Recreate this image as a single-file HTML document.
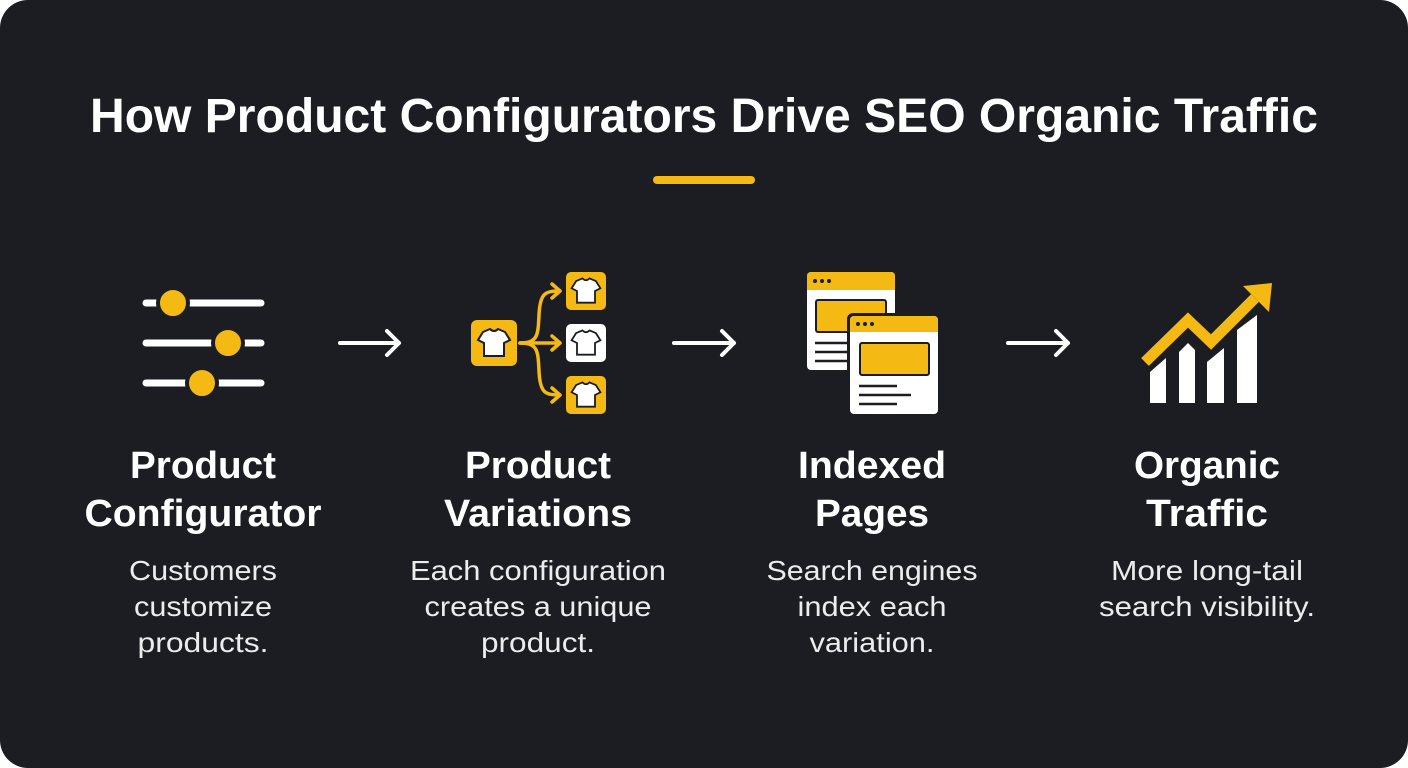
<!DOCTYPE html>
<html><head><meta charset="utf-8"><style>
html,body{margin:0;padding:0;background:#fff;width:1408px;height:768px;overflow:hidden}
svg{display:block}
text{font-family:"Liberation Sans",sans-serif;fill:#fff;text-anchor:middle}
.h{font-weight:bold;font-size:38px}
.d{font-size:28px;fill:#ececec}
</style></head><body>
<svg width="1408" height="768" viewBox="0 0 1408 768">
<rect x="0" y="0" width="1408" height="768" rx="28" fill="#1b1d22"/>
<text x="704" y="132" font-weight="bold" font-size="48" textLength="1228" lengthAdjust="spacingAndGlyphs">How Product Configurators Drive SEO Organic Traffic</text>
<rect x="653" y="176" width="102" height="8" rx="4" fill="#f5b914"/>

<!-- sliders -->
<g stroke="#fff" stroke-width="7" stroke-linecap="round">
<line x1="146" y1="303" x2="261" y2="303"/><line x1="146" y1="343" x2="261" y2="343"/><line x1="146" y1="383" x2="261" y2="383"/>
</g>
<g fill="#f5b914" stroke="#1b1d22" stroke-width="4">
<circle cx="173" cy="303" r="15"/><circle cx="228" cy="343" r="15"/><circle cx="202" cy="383" r="15"/>
</g>

<!-- arrows -->
<g stroke="#fff" stroke-width="4" fill="none" stroke-linecap="round" stroke-linejoin="round">
<path d="M340 343H399M387 331L399 343L387 355"/>
<path d="M674 343H734M722 331L734 343L722 355"/>
<path d="M1008 343H1068M1056 331L1068 343L1056 355"/>
</g>

<!-- variations -->
<g stroke="#f5b914" stroke-width="3.5" fill="none" stroke-linecap="round" stroke-linejoin="round">
<path d="M520 343H560M552 336L560 343L552 350"/>
<path d="M520 343C538 343 538 335 539 315C540 293 545 291 560 291M552 284L560 291L552 298"/>
<path d="M520 343C538 343 538 351 539 371C540 393 545 395 560 395M552 388L560 395L552 402"/>
</g>
<defs><path id="tee" d="M-11 -11L-4 -14Q0 -10 4 -14L11 -11L16 -3L10 0V13H-10V0L-16 -3Z"/></defs>
<rect x="471" y="320" width="46" height="46" rx="6" fill="#f5b914"/>
<use href="#tee" x="494" y="343" fill="#fff" stroke="#1b1d22" stroke-width="2"/>
<rect x="566" y="272" width="40" height="38" rx="5" fill="#f5b914"/>
<use href="#tee" fill="#fff" stroke="#1b1d22" stroke-width="2" transform="translate(586 291) scale(.9)"/>
<rect x="566" y="324" width="40" height="38" rx="5" fill="#fff"/>
<use href="#tee" fill="#fff" stroke="#1b1d22" stroke-width="2" transform="translate(586 343) scale(.9)"/>
<rect x="566" y="376" width="40" height="38" rx="5" fill="#f5b914"/>
<use href="#tee" fill="#fff" stroke="#1b1d22" stroke-width="2" transform="translate(586 395) scale(.9)"/>

<!-- pages -->
<g>
<rect x="807" y="272" width="88" height="98" rx="4" fill="#fff"/>
<path d="M807 290V276a4 4 0 0 1 4-4h80a4 4 0 0 1 4 4v14Z" fill="#f5b914"/>
<circle cx="815" cy="281" r="2" fill="#1b1d22"/><circle cx="822" cy="281" r="2" fill="#1b1d22"/><circle cx="829" cy="281" r="2" fill="#1b1d22"/>
<rect x="816" y="300" width="70" height="32" rx="2" fill="#f5b914" stroke="#1b1d22" stroke-width="2"/>
<g stroke="#1b1d22" stroke-width="2.5"><line x1="815" y1="343" x2="850" y2="343"/><line x1="815" y1="352" x2="850" y2="352"/><line x1="815" y1="361" x2="850" y2="361"/></g>
<rect x="847" y="313" width="93" height="103" rx="6" fill="#1b1d22"/>
<rect x="850" y="316" width="88" height="98" rx="4" fill="#fff"/>
<path d="M850 332V320a4 4 0 0 1 4-4h80a4 4 0 0 1 4 4v12Z" fill="#f5b914"/>
<circle cx="858" cy="324" r="2" fill="#1b1d22"/><circle cx="865" cy="324" r="2" fill="#1b1d22"/><circle cx="872" cy="324" r="2" fill="#1b1d22"/>
<rect x="860" y="343" width="69" height="32" rx="2" fill="#f5b914" stroke="#1b1d22" stroke-width="2"/>
<g stroke="#1b1d22" stroke-width="2.5"><line x1="859" y1="386" x2="897" y2="386"/><line x1="859" y1="395" x2="911" y2="395"/><line x1="859" y1="404" x2="897" y2="404"/></g>
</g>

<!-- chart -->
<g fill="#fff">
<path d="M1150 403V372L1166 358V403Z"/>
<path d="M1179 403V352L1188 343L1195 350V403Z"/>
<path d="M1207 403V362L1224 348V403Z"/>
<path d="M1237 403V330L1257 315V403Z"/>
</g>
<path d="M1145 362L1188 320L1211 342L1255 298" fill="none" stroke="#1b1d22" stroke-width="17" stroke-linejoin="miter"/>
<path d="M1145 362L1188 320L1211 342L1255 298" fill="none" stroke="#f5b914" stroke-width="11" stroke-linejoin="miter"/>
<path d="M1243 286L1272 283L1269 312Z" fill="#f5b914"/>

<!-- labels -->
<text class="h" x="203" y="478" textLength="146" lengthAdjust="spacingAndGlyphs">Product</text>
<text class="h" x="203" y="526" textLength="237" lengthAdjust="spacingAndGlyphs">Configurator</text>
<text class="d" x="203" y="580" textLength="148" lengthAdjust="spacingAndGlyphs">Customers</text>
<text class="d" x="203" y="616" textLength="138" lengthAdjust="spacingAndGlyphs">customize</text>
<text class="d" x="203" y="652" textLength="131" lengthAdjust="spacingAndGlyphs">products.</text>

<text class="h" x="538" y="478" textLength="146" lengthAdjust="spacingAndGlyphs">Product</text>
<text class="h" x="538" y="526" textLength="188" lengthAdjust="spacingAndGlyphs">Variations</text>
<text class="d" x="538" y="580" textLength="256" lengthAdjust="spacingAndGlyphs">Each configuration</text>
<text class="d" x="538" y="616" textLength="227" lengthAdjust="spacingAndGlyphs">creates a unique</text>
<text class="d" x="538" y="652" textLength="114" lengthAdjust="spacingAndGlyphs">product.</text>

<text class="h" x="872" y="478" textLength="148" lengthAdjust="spacingAndGlyphs">Indexed</text>
<text class="h" x="872" y="526" textLength="114" lengthAdjust="spacingAndGlyphs">Pages</text>
<text class="d" x="872" y="580" textLength="211" lengthAdjust="spacingAndGlyphs">Search engines</text>
<text class="d" x="872" y="616" textLength="149" lengthAdjust="spacingAndGlyphs">index each</text>
<text class="d" x="872" y="652" textLength="125" lengthAdjust="spacingAndGlyphs">variation.</text>

<text class="h" x="1207" y="478" textLength="146" lengthAdjust="spacingAndGlyphs">Organic</text>
<text class="h" x="1207" y="526" textLength="122" lengthAdjust="spacingAndGlyphs">Traffic</text>
<text class="d" x="1207" y="580" textLength="192" lengthAdjust="spacingAndGlyphs">More long-tail</text>
<text class="d" x="1207" y="616" textLength="216" lengthAdjust="spacingAndGlyphs">search visibility.</text>
</svg>
</body></html>
